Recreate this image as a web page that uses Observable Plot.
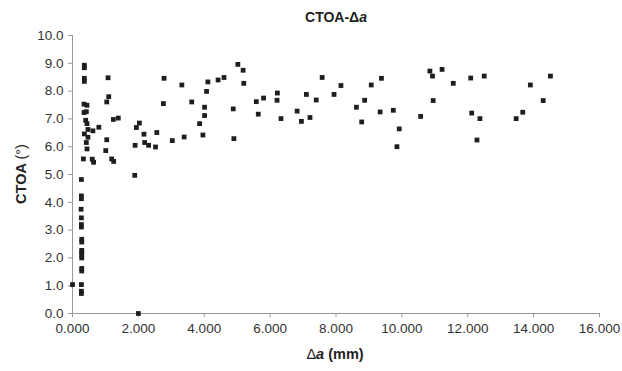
<!DOCTYPE html>
<html><head><meta charset="utf-8">
<script src="https://cdn.jsdelivr.net/npm/d3@7"></script>
<script src="https://cdn.jsdelivr.net/npm/@observablehq/plot@0.6"></script>
<style>
html,body{margin:0;padding:0;background:#fff;}
#chart{width:622px;height:371px;}
</style></head><body><div id="chart"></div>
<script>
// Text
const titleMain = "CTOA-Δ";
const titleItalic = "a";
const xLabelPre = "Δ";
const xLabelItalic = "a";
const xLabelPost = " (mm)";
const yLabelMain = "CTOA ";
const yLabelUnit = "(°)";

// Tick values
const xTicks = [0, 2, 4, 6, 8, 10, 12, 14, 16];
const yTicks = [0, 1, 2, 3, 4, 5, 6, 7, 8, 9, 10];

// Data: crack extension Δa (mm) and CTOA (°)
const crackExt = [
  0.0, 0.27, 0.27, 0.27, 0.28, 0.28, 0.28, 0.28, 0.28, 0.28,
  0.28, 0.28, 0.27, 0.27, 0.27, 0.26, 0.27, 0.27, 0.27, 0.33,
  0.36, 0.36, 0.36, 0.36, 0.35, 0.44, 0.35, 0.42, 0.40, 0.44,
  0.47, 0.36, 0.62, 0.80, 0.47, 0.42, 0.44, 0.60, 0.64, 1.08,
  1.10, 1.04, 1.24, 1.39, 1.04, 1.01, 1.19, 1.25, 1.89, 1.90,
  1.94, 2.03, 2.17, 2.19, 2.31, 2.52, 2.56, 2.00, 2.78, 2.76,
  3.03, 3.32, 3.39, 3.62, 3.86, 3.96, 4.01, 4.01, 4.07, 4.11,
  4.42, 4.60, 5.02, 5.18, 5.20, 4.88, 4.90, 5.58, 5.64, 5.80,
  6.22, 6.21, 6.33, 6.82, 6.95, 7.21, 7.10, 7.40, 7.58, 7.94,
  8.15, 8.62, 8.78, 8.87, 9.07, 9.38, 9.34, 9.74, 9.92, 9.85,
  10.57, 10.85, 10.93, 11.22, 10.95, 11.56, 12.09, 12.50, 12.12, 12.37,
  12.28, 13.47, 13.67, 13.90, 14.29, 14.51
];
const ctoa = [
  1.04, 0.72, 0.80, 1.04, 1.53, 1.62, 2.00, 2.10, 2.20, 2.27,
  2.57, 2.67, 3.11, 3.20, 3.44, 3.75, 4.13, 4.23, 4.82, 5.56,
  8.93, 8.84, 8.46, 8.35, 7.53, 7.49, 7.23, 7.26, 6.95, 6.83,
  6.62, 6.46, 6.57, 6.70, 6.34, 6.15, 5.92, 5.55, 5.44, 8.48,
  7.80, 7.61, 6.98, 7.03, 6.25, 5.86, 5.56, 5.47, 4.97, 6.05,
  6.69, 6.85, 6.45, 6.15, 6.05, 5.99, 6.51, 0.0, 8.46, 7.55,
  6.22, 8.22, 6.35, 7.61, 6.83, 6.42, 7.12, 7.42, 7.99, 8.33,
  8.40, 8.49, 8.96, 8.75, 8.28, 7.36, 6.29, 7.62, 7.17, 7.75,
  7.93, 7.67, 7.01, 7.28, 6.91, 7.05, 7.88, 7.68, 8.49, 7.88,
  8.20, 7.42, 6.89, 7.67, 8.22, 8.46, 7.25, 7.31, 6.64, 6.00,
  7.09, 8.72, 8.54, 8.78, 7.66, 8.28, 8.47, 8.54, 7.21, 7.01,
  6.24, 7.01, 7.24, 8.22, 7.66, 8.54
];

const points = crackExt.map((x, i) => ({x, y: ctoa[i]}));

const font = "'Liberation Sans', Arial, sans-serif";
const plot = Plot.plot({
  width: 622,
  height: 371,
  marginLeft: 72,
  marginRight: 23,
  marginTop: 35,
  marginBottom: 58,
  style: {fontFamily: font, fontSize: "13.5px", color: "#333", background: "#fff", overflow: "visible"},
  x: {domain: [0, 16]},
  y: {domain: [0, 10]},
  marks: [
    Plot.ruleX([0], {stroke: "#999"}),
    Plot.ruleY([0], {stroke: "#999"}),
    Plot.axisX(xTicks, {tickFormat: d3.format(".3f"), tickSize: 4, tickPadding: 6, stroke: "#999", label: null}),
    Plot.axisY(yTicks, {tickFormat: d3.format(".1f"), tickSize: 4, tickPadding: 5, stroke: "#999", label: null}),
    Plot.dot(points, {x: "x", y: "y", symbol: "square", r: 2.7, fill: "#1e1e1e", stroke: "none"})
  ]
});
document.getElementById("chart").appendChild(plot);

const svg = d3.select(plot);
// Title
const t = svg.append("text")
  .attr("x", 336).attr("y", 22)
  .attr("text-anchor", "middle")
  .attr("font-family", font).attr("font-weight", "bold").attr("font-size", 14)
  .attr("fill", "#222");
t.append("tspan").text(titleMain);
t.append("tspan").attr("font-style", "italic").text(titleItalic);

// X label
const xl = svg.append("text")
  .attr("x", 335).attr("y", 359)
  .attr("text-anchor", "middle")
  .attr("font-family", font).attr("font-weight", "bold").attr("font-size", 14.5)
  .attr("fill", "#222");
xl.append("tspan").attr("font-weight", "normal").text(xLabelPre);
xl.append("tspan").attr("font-style", "italic").text(xLabelItalic);
xl.append("tspan").text(xLabelPost);

// Y label
const yl = svg.append("text")
  .attr("transform", "translate(26,174) rotate(-90)")
  .attr("text-anchor", "middle")
  .attr("font-family", font).attr("font-weight", "bold").attr("font-size", 14.5)
  .attr("fill", "#222");
yl.append("tspan").text(yLabelMain);
yl.append("tspan").attr("font-weight", "normal").text(yLabelUnit);
</script>
</body></html>
